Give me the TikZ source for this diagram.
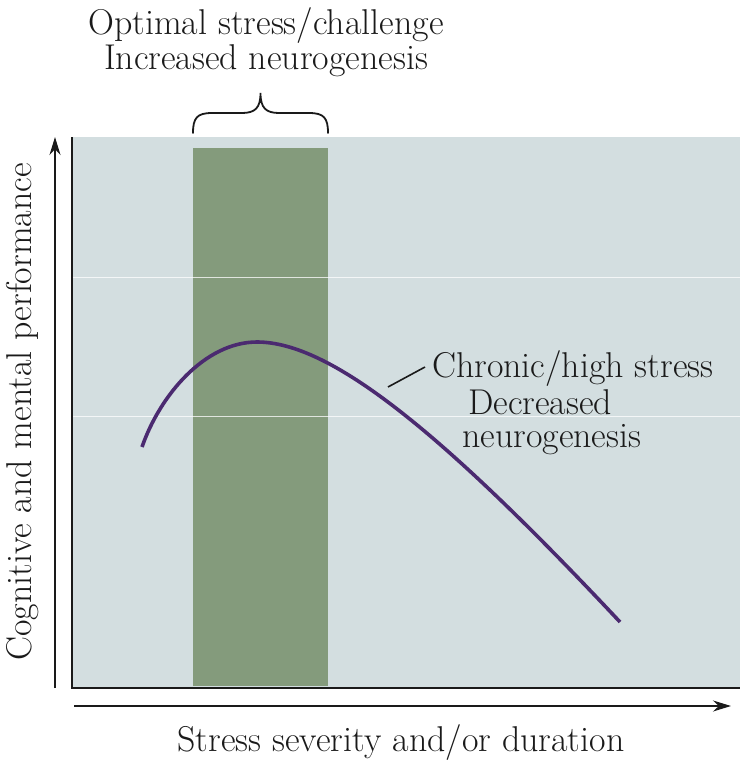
\documentclass[tikz,border=0pt]{standalone}
\usetikzlibrary{arrows.meta}
\definecolor{panelbg}{HTML}{D3DEE0}
\definecolor{barcol}{HTML}{849B7C}
\definecolor{curvecol}{HTML}{4B2A70}
\definecolor{inkcol}{HTML}{1A1A1A}
\tikzset{
  lbl/.style={inner sep=0pt, font=\fontsize{36}{40}\selectfont, text=inkcol},
  axisarrow/.style={draw=inkcol, line width=1.6bp, -{Stealth[length=18bp,width=11bp]}},
  border/.style={draw=inkcol, line width=1.8bp},
  gridline/.style={draw=white, line width=1bp, opacity=0.75},
}
\begin{document}
\begin{tikzpicture}[x=1bp,y=-1bp]
\useasboundingbox (0,0) rectangle (740,766);
% panel
\fill[panelbg] (72,137) rectangle (740,688);
\fill[barcol] (193,148) rectangle (328,686);
\draw[gridline] (72,277) -- (740,277);
\draw[gridline] (72,416) -- (740,416);
\draw[border] (72,137) -- (72,688) -- (740,688);
% axes
\coordinate (yA) at (55,688);
\coordinate (yB) at (55,137);
\coordinate (xA) at (74,706);
\coordinate (xB) at (731,706);
\draw[axisarrow] (yA) -- (yB);
\draw[axisarrow] (xA) -- (xB);
% brace
\draw[draw=inkcol, line width=1.8bp, line cap=round]
  (193,133) .. controls (193,118) and (197,113) .. (212,113) -- (242,113)
  .. controls (255,113) and (260.5,108) .. (260.5,93)
  .. controls (260.5,108) and (266,113) .. (279,113) -- (309,113)
  .. controls (324,113) and (328,118) .. (328,133);
% curve
\coordinate (cS) at (142,447);
\coordinate (cP) at (257,342);
\coordinate (cE) at (620,622);
\draw[curvecol, line width=3.6bp]
  (cS) .. controls (160,395) and (205,342) .. (cP)
       .. controls (330,342) and (440,430) .. (cE);
% leader
\coordinate (ldA) at (388,387);
\coordinate (ldB) at (425,367);
\draw[draw=inkcol, line width=1.6bp] (ldA) -- (ldB);
% texts
\node[lbl, anchor=base] (top1) at (266,35) {Optimal stress/challenge};
\node[lbl, anchor=base] (top2) at (266,70) {Increased neurogenesis};
\node[lbl, anchor=base west] (ch1) at (432,377) {Chronic/high stress};
\node[lbl, anchor=base west] (ch2) at (468,414) {Decreased};
\node[lbl, anchor=base west] (ch3) at (462,447) {neurogenesis};
\node[lbl, anchor=base] (xl) at (401,751) {Stress severity and/or duration};
\node[lbl, anchor=base, rotate=90] (yl) at (31,412) {Cognitive and mental performance};
\end{tikzpicture}
\end{document}
